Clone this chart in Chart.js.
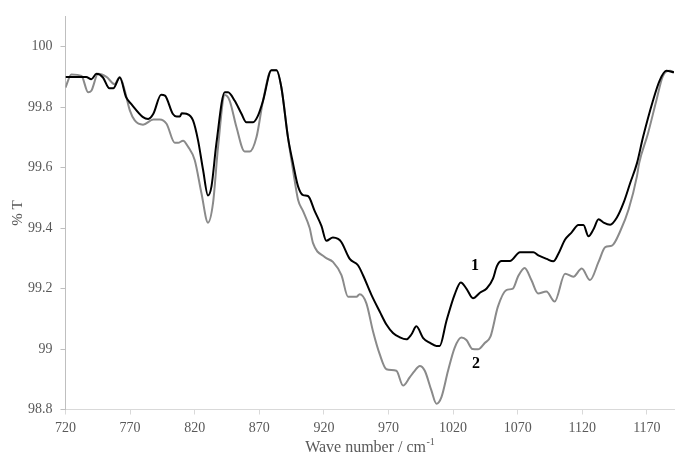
<!DOCTYPE html>
<html><head><meta charset="utf-8">
<script src="https://cdn.jsdelivr.net/npm/chart.js@4/dist/chart.umd.min.js"></script>
<style>html,body{margin:0;padding:0;background:#fff}#wrap{width:677px;height:457px;position:relative}</style>
</head><body><div id="wrap"><canvas id="c" width="677" height="457"></canvas></div>
<script>
// ---- data ----
const wavenumbers1 = [720,736,740,744,749,754,757,762,767,771,780,784,788,794,797,803,806,808.5,810,813.6,818.7,822.6,826.5,830.3,833,836.8,843.3,845.8,851,856.2,860,865.2,869,872.9,879.4,883.3,887.1,892.2,896.1,900,903.9,907.7,912.9,918.1,921.9,927,931,933.6,940,946.4,950.3,956.8,963.2,968.4,973.5,978.7,983.8,987.7,991.6,996.7,1001.9,1007.1,1009.6,1014.8,1021.2,1026,1030.3,1035.4,1041,1046,1050.9,1054,1057.6,1064,1071.8,1082.1,1086,1092.4,1097.6,1101.5,1106.7,1111.8,1117,1120.9,1124.8,1128.7,1132.6,1136.5,1141.6,1146.8,1152,1157.1,1162.3,1167,1174.7,1179.8,1185,1191];
const transmittance1 = [99.900,99.900,99.892,99.910,99.898,99.862,99.862,99.898,99.832,99.810,99.767,99.761,99.778,99.841,99.838,99.778,99.769,99.769,99.780,99.778,99.756,99.690,99.592,99.508,99.538,99.680,99.849,99.849,99.821,99.778,99.750,99.750,99.772,99.821,99.922,99.922,99.865,99.700,99.614,99.538,99.509,99.506,99.456,99.407,99.358,99.369,99.364,99.353,99.298,99.277,99.244,99.179,99.124,99.081,99.053,99.039,99.032,99.048,99.075,99.037,99.021,99.010,99.010,99.092,99.180,99.220,99.200,99.168,99.187,99.200,99.233,99.275,99.291,99.291,99.320,99.320,99.310,99.298,99.290,99.315,99.362,99.386,99.410,99.410,99.373,99.396,99.429,99.418,99.411,99.435,99.484,99.549,99.614,99.700,99.821,99.887,99.920,99.915];
const wavenumbers2 = [720,724.6,732.4,737.5,740,745.2,751.7,758,762,765.9,769.8,773.6,780,788,793,798.2,804.6,807.2,811,814.9,820,825.2,830.3,834.2,838.1,843.3,847.1,852.3,858.7,862.6,867.8,872.9,879.4,883.3,887.1,892.2,896.1,900,903.9,909,911.6,920.6,927,933.6,938.7,945.2,947.7,952.9,958,963.2,968.4,976.1,981.3,986.4,990.3,994.2,998.1,1003.2,1007.1,1011,1016.1,1021.2,1026.4,1030.3,1035,1039.3,1044.5,1049,1054.7,1061.2,1066.3,1070.2,1075.4,1080.6,1085.7,1092.2,1098.6,1106.7,1113.1,1119.6,1126,1132.6,1137.8,1143,1149.5,1155.9,1162.3,1164,1170.8,1177.3,1182.4,1188,1191];
const transmittance2 = [99.865,99.908,99.903,99.849,99.854,99.910,99.900,99.876,99.900,99.854,99.789,99.756,99.742,99.759,99.759,99.745,99.682,99.682,99.689,99.669,99.625,99.516,99.418,99.483,99.669,99.840,99.821,99.734,99.653,99.653,99.700,99.821,99.922,99.922,99.865,99.700,99.592,99.494,99.456,99.400,99.350,99.304,99.288,99.244,99.173,99.173,99.181,99.151,99.059,98.983,98.933,98.928,98.879,98.906,98.928,98.944,98.928,98.863,98.819,98.841,98.928,99.004,99.038,99.030,99.000,98.999,99.020,99.042,99.140,99.195,99.200,99.239,99.268,99.228,99.184,99.190,99.157,99.249,99.239,99.266,99.228,99.288,99.337,99.342,99.391,99.462,99.571,99.614,99.712,99.821,99.903,99.920,99.915];
const xTicks = [720,770,820,870,920,970,1020,1070,1120,1170];
const yTicks = [98.8,99,99.2,99.4,99.6,99.8,100];
const curveNames = ['1','2'];
const curveNameAt = [[1037,99.276],[1037.8,98.952]];
const xTitle = 'Wave number / cm';
const xTitleSup = '-1';
const yTitle = '% T';

const FONT = '"Liberation Serif", "Times New Roman", serif';
const labelsPlugin = {
  id: 'labelsPlugin',
  afterDraw(chart) {
    const ctx = chart.ctx, xs = chart.scales.x, ys = chart.scales.y, ca = chart.chartArea;
    ctx.save();
    // curve labels
    ctx.fillStyle = '#000';
    ctx.font = 'bold 16px ' + FONT;
    ctx.textAlign = 'center'; ctx.textBaseline = 'middle';
    curveNames.forEach((n, i) => {
      ctx.fillText(n, xs.getPixelForValue(curveNameAt[i][0]), ys.getPixelForValue(curveNameAt[i][1]));
    });
    // x title with superscript
    ctx.fillStyle = '#595959';
    ctx.textBaseline = 'alphabetic'; ctx.textAlign = 'left';
    ctx.font = '16px ' + FONT;
    const w1 = ctx.measureText(xTitle).width;
    ctx.font = '10px ' + FONT;
    const w2 = ctx.measureText(xTitleSup).width;
    const cx = (ca.left + ca.right) / 2;
    const x0 = cx - (w1 + w2) / 2;
    ctx.font = '16px ' + FONT;
    ctx.fillText(xTitle, x0, 451.5);
    ctx.font = '10px ' + FONT;
    ctx.fillText(xTitleSup, x0 + w1 + 0.5, 445);
    // y title
    ctx.translate(18, (ca.top + ca.bottom) / 2);
    ctx.rotate(-Math.PI / 2);
    ctx.font = '15px ' + FONT;
    ctx.textAlign = 'center'; ctx.textBaseline = 'middle';
    ctx.fillText(yTitle, 0, 0);
    ctx.restore();
  }
};

new Chart(document.getElementById('c'), {
  type: 'line',
  data: {
    datasets: [
      { label: curveNames[0], data: wavenumbers1.map((x, i) => ({ x, y: transmittance1[i] })),
        borderColor: '#000000', borderWidth: 2, pointRadius: 0, cubicInterpolationMode: 'monotone', fill: false },
      { label: curveNames[1], data: wavenumbers2.map((x, i) => ({ x, y: transmittance2[i] })),
        borderColor: '#8a8a8a', borderWidth: 2, pointRadius: 0, cubicInterpolationMode: 'monotone', fill: false }
    ]
  },
  options: {
    responsive: false, animation: false,
    plugins: { legend: { display: false }, tooltip: { enabled: false } },
    layout: { padding: { left: 0, right: 3, top: 12, bottom: 0 } },
    scales: {
      x: {
        type: 'linear', min: 720, max: 1191,
        afterBuildTicks: s => { s.ticks = xTicks.map(v => ({ value: v })); },
        afterFit: s => { s.height = 47.5; },
        grid: { drawOnChartArea: false, tickLength: 5, color: '#d9d9d9' },
        border: { color: '#d9d9d9', width: 1 },
        ticks: { font: { family: FONT, size: 14 }, color: '#595959', padding: 5, maxRotation: 0, autoSkip: false,
                 callback: v => String(v) }
      },
      y: {
        type: 'linear', min: 98.8, max: 100.1,
        afterBuildTicks: s => { s.ticks = yTicks.map(v => ({ value: v })); },
        afterFit: s => { s.width = 65.5; },
        grid: { drawOnChartArea: false, tickLength: 5, color: '#bfbfbf' },
        border: { color: '#bfbfbf', width: 1 },
        ticks: { font: { family: FONT, size: 14 }, color: '#595959', padding: 8,
                 callback: v => String(+Number(v).toFixed(1)) }
      }
    }
  },
  plugins: [labelsPlugin]
});
</script></body></html>
